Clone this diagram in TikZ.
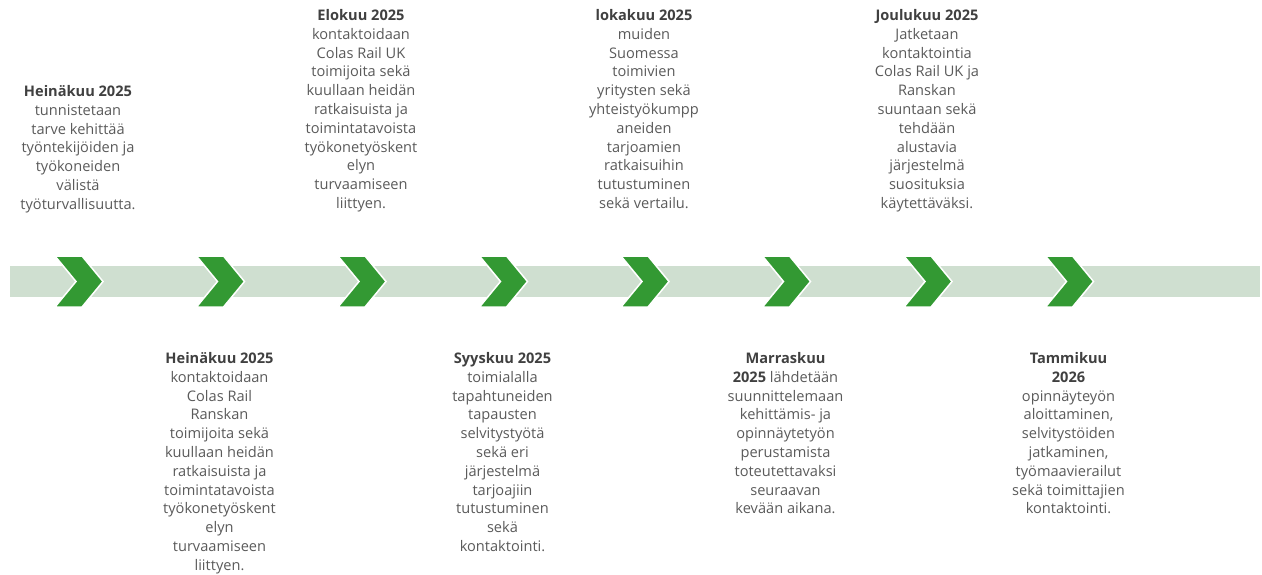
\documentclass[tikz,border=0pt]{standalone}
\usepackage{fontspec}
\setmainfont{Open Sans}
\definecolor{chevgreen}{HTML}{339933}
\definecolor{bandgreen}{HTML}{CFDFD0}
\definecolor{txtgray}{HTML}{5A5A5A}
\definecolor{ttlgray}{HTML}{404040}
\tikzset{
  chevron/.pic={\fill[chevgreen,draw=white,line width=1.5pt,line join=miter]
     (0,0)--(27,0)--(48,25.5)--(27,51)--(0,51)--(21,25.5)--cycle;},
  entry/.style={align=center,font=\fontsize{14.6}{18.8}\selectfont,text=txtgray,inner sep=0pt,anchor=north},
}
\newcommand\ttl[1]{\textbf{\color{ttlgray}#1}}
\begin{document}
\begin{tikzpicture}[x=1pt,y=-1pt]
\useasboundingbox (0,0) rectangle (1262,574);
\fill[bandgreen] (10,266) rectangle (1260,296.5);
\foreach \i in {0,...,7}{
  \pic at ({55+141.5*\i},256) {chevron};
}
% top entries
\node[entry] (t1) at (78,85.2) {\ttl{Heinäkuu 2025}\\tunnistetaan\\tarve kehittää\\työntekijöiden ja\\työkoneiden\\välistä\\työturvallisuutta.};
\node[entry] (t3) at (361,9.2) {\ttl{Elokuu 2025}\\kontaktoidaan\\Colas Rail UK\\toimijoita sekä\\kuullaan heidän\\ratkaisuista ja\\toimintatavoista\\työkonetyöskent\\elyn\\turvaamiseen\\liittyen.};
\node[entry] (t5) at (644,9.2) {\ttl{lokakuu 2025}\\muiden\\Suomessa\\toimivien\\yritysten sekä\\yhteistyökumpp\\aneiden\\tarjoamien\\ratkaisuihin\\tutustuminen\\sekä vertailu.};
\node[entry] (t7) at (927,9.2) {\ttl{Joulukuu 2025}\\Jatketaan\\kontaktointia\\Colas Rail UK ja\\Ranskan\\suuntaan sekä\\tehdään\\alustavia\\järjestelmä\\suosituksia\\käytettäväksi.};
% bottom entries
\node[entry] (t2) at (219.5,352.2) {\ttl{Heinäkuu 2025}\\kontaktoidaan\\Colas Rail\\Ranskan\\toimijoita sekä\\kuullaan heidän\\ratkaisuista ja\\toimintatavoista\\työkonetyöskent\\elyn\\turvaamiseen\\liittyen.};
\node[entry] (t4) at (502.5,352.2) {\ttl{Syyskuu 2025}\\toimialalla\\tapahtuneiden\\tapausten\\selvitystyötä\\sekä eri\\järjestelmä\\tarjoajiin\\tutustuminen\\sekä\\kontaktointi.};
\node[entry] (t6) at (785.5,352.2) {\ttl{Marraskuu}\\\ttl{2025} lähdetään\\suunnittelemaan\\kehittämis- ja\\opinnäytetyön\\perustamista\\toteutettavaksi\\seuraavan\\kevään aikana.};
\node[entry] (t8) at (1068.5,352.2) {\ttl{Tammikuu}\\\ttl{2026}\\opinnäyteyön\\aloittaminen,\\selvitystöiden\\jatkaminen,\\työmaavierailut\\sekä toimittajien\\kontaktointi.};
\end{tikzpicture}
\end{document}
